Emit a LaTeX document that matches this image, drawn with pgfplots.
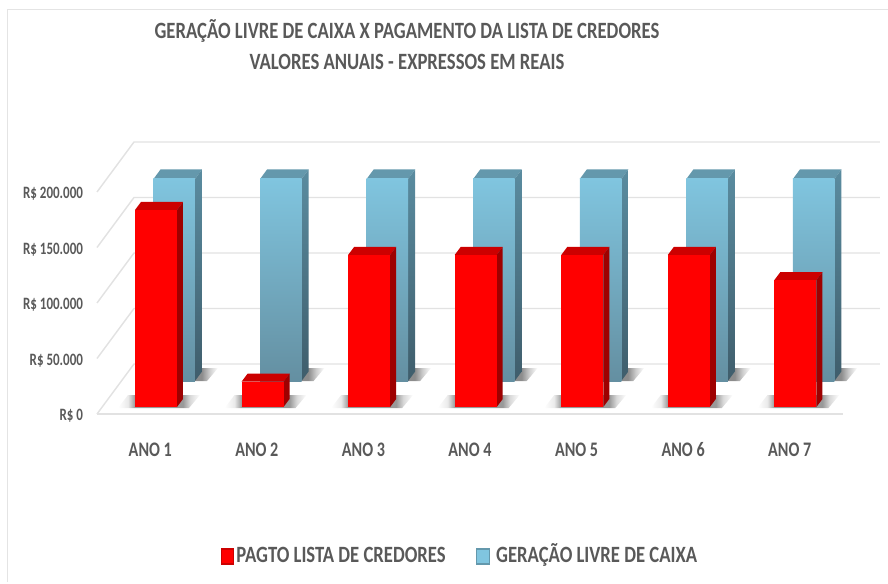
\documentclass[border=0pt]{standalone}
\usepackage{fontspec}
\setmainfont{Carlito}[FakeStretch=0.8]
\newfontfamily\fonteY{Carlito}[FakeStretch=0.75]
\newfontfamily\fonteX{Carlito}[FakeStretch=0.78]
\usepackage{pgfplots}
\usepackage{pgfplotstable}
\pgfplotsset{compat=1.18}

\definecolor{texto}{HTML}{595959}
\definecolor{grade}{HTML}{E2E2E2}
\definecolor{moldura}{HTML}{E4E4E4}

\pgfdeclarehorizontalshading{sombrabar}{100bp}{rgb(0bp)=(1,1,1); rgb(25bp)=(1,1,1); rgb(31bp)=(.92,.92,.92); rgb(35.4bp)=(.6,.6,.6); rgb(64.6bp)=(.6,.6,.6); rgb(69bp)=(.85,.85,.85); rgb(75bp)=(1,1,1); rgb(100bp)=(1,1,1)}
\pgfdeclarehorizontalshading{sombrafundo}{100bp}{rgb(0bp)=(.55,.55,.55); rgb(25bp)=(.55,.55,.55); rgb(58bp)=(.55,.55,.55); rgb(66bp)=(.8,.8,.8); rgb(75bp)=(1,1,1); rgb(100bp)=(1,1,1)}

% values in thousands of reais
\pgfplotstableread{
ano pagto geracao
0   177.5 182
1   22.8  182
2   137   182
3   137   182
4   137   182
5   137   182
6   114.4 182
}\dados

\pgfplotsset{
  red front/.style={fill=red,draw=none},
  red side/.style={fill=red!62!black,draw=none},
  red top/.style={fill=red!80!black,draw=none},
  blue front/.style={top color=blue top col,bottom color=blue bot col,draw=none},
  blue side/.style={top color=blue side t,bottom color=blue side b,draw=none},
  blue top/.style={fill=blue top f,draw=none},
}
\definecolor{blue top col}{HTML}{80C5DF}
\definecolor{blue bot col}{HTML}{648FA1}
\definecolor{blue side t}{HTML}{5A8CA0}
\definecolor{blue side b}{HTML}{3F5D6B}
\definecolor{blue top f}{HTML}{6498AC}

% #1 category, #2 value, #3 x offset px, #4 base px above the floor, #5 style prefix, #6 depth dx px, #7 depth dy px, #8 width px
\newcommand{\barra}[8]{%
  \pgfmathsetmacro\xa{#1+(#3)/106.57}%
  \pgfmathsetmacro\xb{\xa+(#8)/106.57}%
  \pgfmathsetmacro\xc{\xb+(#6)/106.57}%
  \pgfmathsetmacro\xd{\xa+(#6)/106.57}%
  \pgfmathsetmacro\ya{(#4)*0.9009}%
  \pgfmathsetmacro\yb{\ya+#2}%
  \pgfmathsetmacro\yc{\yb+(#7)*0.9009}%
  \pgfmathsetmacro\yd{\ya+(#7)*0.9009}%
  \addplot[forget plot,#5 top] coordinates {(\xa,\yb)(\xb,\yb)(\xc,\yc)(\xd,\yc)};
  \addplot[forget plot,#5 side] coordinates {(\xb,\ya)(\xb,\yb)(\xc,\yc)(\xc,\yd)};
  \addplot[forget plot,#5 front] coordinates {(\xa,\ya)(\xa,\yb)(\xb,\yb)(\xb,\ya)};
}

\begin{document}
\begin{tikzpicture}
\useasboundingbox (0,0) rectangle (666pt,437.25pt);
\draw[moldura,line width=1.1pt] (5.6pt,0.5pt) -- (5.6pt,430pt) -- (666pt,430pt);
\begin{axis}[
  at={(72.75pt,126.75pt)},anchor=south west,
  scale only axis,width=559.5pt,height=166.5pt,
  xmin=-0.5,xmax=6.5,ymin=0,ymax=200,
  clip=false,
  axis line style={draw=none},tick style={draw=none},
  xtick={0,...,6},
  xticklabels={ANO 1,ANO 2,ANO 3,ANO 4,ANO 5,ANO 6,ANO 7},
  ytick={0,50,100,150,200},
  yticklabels={R\$ 0,R\$ 50.000,R\$ 100.000,R\$ 150.000,R\$ 200.000},
  xticklabel style={font=\fonteX\bfseries\fontsize{15.5}{17}\selectfont,text=texto},
  yticklabel style={font=\fonteY\bfseries\fontsize{13}{15}\selectfont,text=texto,yshift=-1.5pt},
  xticklabel shift=18pt,
  yticklabel shift=7pt,
  title={GERAÇÃO LIVRE DE CAIXA X PAGAMENTO DA LISTA DE CREDORES\\VALORES ANUAIS - EXPRESSOS EM REAIS},
  title style={at={(0.4155,1.626)},anchor=center,align=center,text=texto,
    font=\bfseries\fontsize{17.5}{23.25}\selectfont},
  legend style={at={(0.16,-0.643)},anchor=west,draw=none,fill=none,
    font=\bfseries\fontsize{17.5}{20}\selectfont,text=texto,
    nodes={text height=13pt,text depth=4pt},
    legend columns=2,/tikz/every even column/.append style={column sep=21pt}},
]
% back wall and floor
\pgfplotsinvokeforeach{0,50,...,200}{
  \pgfmathsetmacro\yt{#1+45.05}
  \addplot[forget plot,grade,line width=1.1pt] coordinates {(-0.5,#1)(-0.153,\yt)(6.847,\yt)};
}
\addplot[forget plot,grade,line width=1.1pt] coordinates {(-0.5,0)(6.5,0)};
% series at the back
\pgfplotsinvokeforeach{0,...,6}{
  \pgfplotstablegetelem{#1}{geracao}\of\dados
  \let\valor\pgfplotsretval
  \pgfmathsetmacro\sa{#1+(19.7)/106.57}
  \pgfmathsetmacro\sb{#1+(56.7)/106.57}
  \pgfmathsetmacro\sc{#1+(67.7)/106.57}
  \pgfmathsetmacro\sd{#1+(24.7)/106.57}
  \addplot[forget plot,shading=sombrafundo,draw=none] coordinates {(\sa,29.7)(\sb,29.7)(\sc,41.4)(\sd,41.4)};
  \barra{#1}{\valor}{3.2}{33}{blue}{7}{9.5}{41.5}
}
% series in front
\pgfplotsinvokeforeach{0,...,6}{
  \pgfplotstablegetelem{#1}{pagto}\of\dados
  \let\valor\pgfplotsretval
  \pgfmathsetmacro\sa{#1+(-32.3)/106.57}
  \pgfmathsetmacro\sb{#1+(38.7)/106.57}
  \pgfmathsetmacro\sc{#1+(49.7)/106.57}
  \pgfmathsetmacro\sd{#1+(-22.3)/106.57}
  \addplot[forget plot,shading=sombrabar,draw=none] coordinates {(\sa,5.4)(\sb,5.4)(\sc,17.1)(\sd,17.1)};
  \barra{#1}{\valor}{-15.3}{7}{red}{6}{8}{42}
}
\addlegendimage{legend image code/.code={\fill[red!80!black] (0pt,-5.5pt) rectangle (9.5pt,6pt);\fill[red] (0.8pt,-4.5pt) rectangle (8.7pt,5pt);}}
\addlegendentry{PAGTO LISTA DE CREDORES}
\addlegendimage{legend image code/.code={\fill[blue top f] (0pt,-5.5pt) rectangle (9.5pt,6pt);\fill[blue top col] (0.8pt,-4.5pt) rectangle (8.7pt,5pt);}}
\addlegendentry{\hspace*{3pt}GERAÇÃO LIVRE DE CAIXA}
\end{axis}
\end{tikzpicture}
\end{document}
